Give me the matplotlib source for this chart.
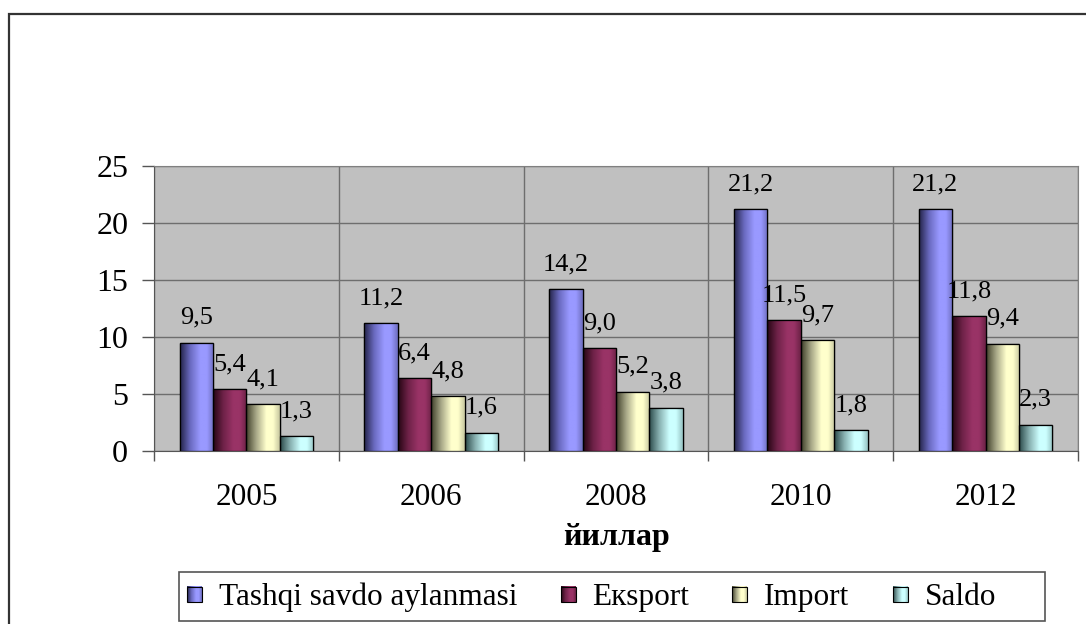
import matplotlib
matplotlib.use("Agg")
import matplotlib.pyplot as plt
import numpy as np
from matplotlib.patches import Rectangle
from matplotlib.legend_handler import HandlerBase
from matplotlib.image import BboxImage
from matplotlib.transforms import Bbox, TransformedBbox

plt.rcParams["font.family"] = ["Liberation Serif", "DejaVu Serif"]

YEARS = ["2005", "2006", "2008", "2010", "2012"]
SERIES = ["Tashqi savdo aylanmasi", "Eкsport", "Import", "Saldo"]
TASHQI = [9.5, 11.2, 14.2, 21.2, 21.2]
EKSPORT = [5.4, 6.4, 9.0, 11.5, 11.8]
IMPORT = [4.1, 4.8, 5.2, 9.7, 9.4]
SALDO = [1.3, 1.6, 3.8, 1.8, 2.3]
VALUES = [TASHQI, EKSPORT, IMPORT, SALDO]
Y_TICKS = [0, 5, 10, 15, 20, 25]
X_LABEL = "йиллар"

# colour stops across a bar (left dark -> light -> slightly darker right)
STOPS = [
    ["#24244a", "#6a6ac0", "#9999ff", "#9999ff", "#6f6fc0"],
    ["#260614", "#6e2248", "#993366", "#993366", "#6c2246"],
    ["#40402a", "#a8a888", "#ffffcc", "#ffffcc", "#c8c8a0"],
    ["#2c4a4a", "#88b0b0", "#ccffff", "#ccffff", "#98c4c4"],
]
STOP_POS = [0.0, 0.3, 0.6, 0.8, 1.0]
BAR_W = 0.181
W, H = 1086, 624


def gradient(stops, n=64):
    rgb = np.array([matplotlib.colors.to_rgb(c) for c in stops])
    t = np.linspace(0, 1, n)
    return np.stack([np.interp(t, STOP_POS, rgb[:, k]) for k in range(3)], axis=-1)[None, :, :]


class GradHandler(HandlerBase):
    def create_artists(self, legend, orig, xd, yd, width, height, fontsize, trans):
        s = 15 * 72 / 100
        x0 = xd + (width - s) / 2
        y0 = yd + (height - s) / 2 - 0.5
        bb = TransformedBbox(Bbox.from_bounds(x0, y0, s, s), trans)
        im = BboxImage(bb, interpolation="bilinear")
        im.set_data(gradient(orig.stops))
        edge = Rectangle((x0, y0), s, s, fc="none", ec="black", lw=0.8, transform=trans)
        return [im, edge]


fig = plt.figure(figsize=(W / 100, H / 100), dpi=100, facecolor="white")
ax = fig.add_axes([154 / W, 1 - 451 / H, (1078 - 154) / W, (451 - 166) / H])
ax.set_facecolor("#c0c0c0")

x = np.arange(len(YEARS))
for i, vals in enumerate(VALUES):
    bars = ax.bar(x + (i - 1.5) * BAR_W, vals, BAR_W, color=STOPS[i][2],
                  edgecolor="black", linewidth=0.9, zorder=3)
    img = gradient(STOPS[i])
    for b, v in zip(bars, vals):
        im = ax.imshow(img, extent=(b.get_x(), b.get_x() + b.get_width(), 0, b.get_height()),
                       aspect="auto", interpolation="bilinear", zorder=3.5)
        im.set_clip_path(b)
        ax.add_patch(Rectangle((b.get_x(), 0), b.get_width(), b.get_height(),
                               fc="none", ec="black", lw=0.9, zorder=4))
        ax.annotate(f"{v:.1f}".replace(".", ","), (b.get_x() + b.get_width() / 2, v),
                    xytext=(0, 10), textcoords="offset points", ha="center", va="bottom",
                    fontsize=19, zorder=6)

ax.set_xlim(-0.5, len(YEARS) - 0.5)
ax.set_ylim(0, 25)
ax.set_yticks(Y_TICKS)
ax.set_xticks(x)
ax.set_xticklabels(YEARS)
ax.set_xticks(np.arange(len(YEARS) + 1) - 0.5, minor=True)
ax.tick_params(axis="x", which="major", length=0, pad=23, labelsize=22.5)
ax.tick_params(axis="x", which="minor", length=7.5, width=1, color="#555555", direction="out")
ax.tick_params(axis="y", length=8.6, width=1, color="#555555", pad=10, labelsize=23)
ax.grid(True, axis="y", color="#6e6e6e", lw=1, zorder=1)
ax.grid(True, axis="x", which="minor", color="#6e6e6e", lw=1, zorder=1)
for side in ("left", "bottom"):
    ax.spines[side].set_color("#555555")
for side in ("top", "right"):
    ax.spines[side].set_color("#808080")
ax.set_axisbelow(True)

ax.set_xlabel(X_LABEL, fontsize=23, fontweight="bold")
ax.xaxis.set_label_coords(0.5, -0.305)
ax.xaxis.label.set_va("center")

# outer chart frame
fig.add_artist(Rectangle((9 / W, -0.05), 1.1, 1 - 14 / H + 0.05, transform=fig.transFigure,
                         fc="none", ec="#333333", lw=1.6))
# legend frame
fig.add_artist(Rectangle((179 / W, 1 - 621 / H), (1045 - 179) / W, (621 - 572) / H,
                         transform=fig.transFigure, fc="white", ec="#555555", lw=1.2))

handles = []
for i in range(len(SERIES)):
    h = Rectangle((0, 0), 1, 1)
    h.stops = STOPS[i]
    handles.append(h)
fig.legend(handles, SERIES, handler_map={Rectangle: GradHandler()}, ncol=4,
           loc="center left", bbox_to_anchor=(183 / W, 1 - 597 / H), frameon=False,
           fontsize=22.5, handlelength=0.75, handletextpad=0.4, columnspacing=1.25,
           borderpad=0, borderaxespad=0)

fig.savefig("out.png", dpi=100, facecolor="white")
